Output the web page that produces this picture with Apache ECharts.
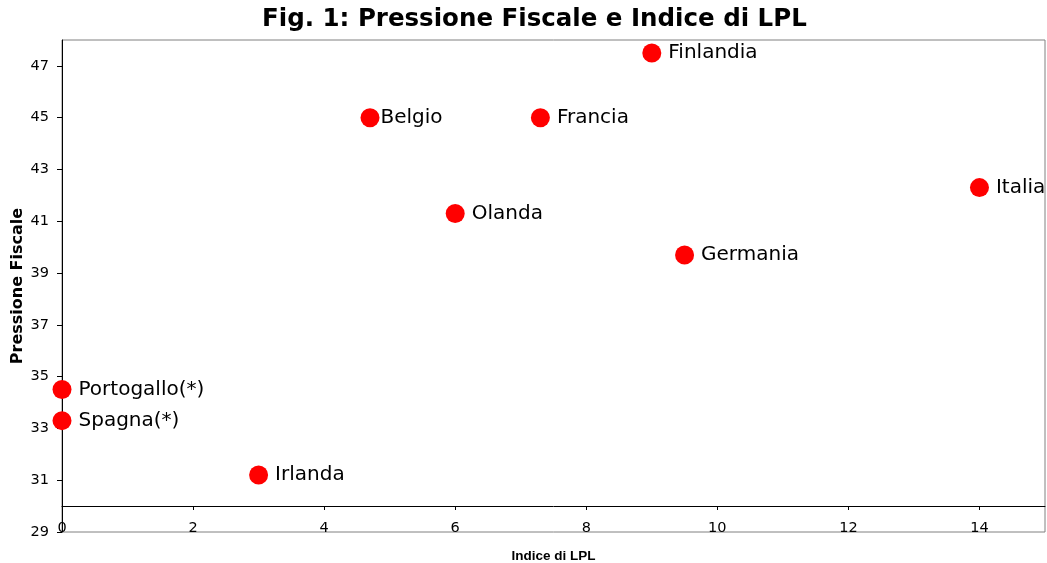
<!DOCTYPE html>
<html>
<head>
<meta charset="utf-8">
<script src="https://cdn.jsdelivr.net/npm/echarts@6/dist/echarts.min.js"></script>
<style>
html,body{margin:0;padding:0;background:#fff;}
#chart{width:1047px;height:563px;}
</style>
</head>
<body>
<div id="chart"></div>
<script>
const countries = ['Finlandia','Belgio','Francia','Italia','Olanda','Germania','Portogallo(*)','Spagna(*)','Irlanda'];
const lpl = [9, 4.7, 7.3, 14, 6, 9.5, 0, 0, 3];
const pressione = [47.5, 45, 45, 42.3, 41.3, 39.7, 34.5, 33.3, 31.2];
const xTicks = [0, 2, 4, 6, 8, 10, 12, 14];
const yTicks = [29, 31, 33, 35, 37, 39, 41, 43, 45, 47];

const chart = echarts.init(document.getElementById('chart'), null, {renderer: 'canvas'});
const font = 'DejaVu Sans, Verdana, sans-serif';

const data = countries.map((c, i) => ({
  value: [lpl[i], pressione[i]],
  name: c,
  label: c === 'Belgio' ? {distance: 1} : undefined
}));

chart.setOption({
  animation: false,
  backgroundColor: '#fff',
  title: {
    text: 'Fig. 1: Pressione Fiscale e Indice di LPL',
    left: 262, top: 7, padding: 0,
    textStyle: {fontFamily: font, fontWeight: 'bold', fontSize: 24.5, color: '#000'}
  },
  grid: {
    left: 62, top: 40, width: 983, height: 492,
    outerBoundsMode: 'none', containLabel: false,
    show: true, borderColor: '#808080', borderWidth: 1, backgroundColor: 'transparent'
  },
  xAxis: [{
    type: 'value', min: 0, max: 15, position: 'bottom',
    axisLine: {show: false},
    axisTick: {show: false},
    splitLine: {show: false},
    axisLabel: {customValues: xTicks, margin: -11, fontFamily: font, fontSize: 14.5, color: '#000'},
    name: 'Indice di LPL', nameLocation: 'middle', nameGap: 17, nameMoveOverlap: false,
    nameTextStyle: {fontFamily: 'Liberation Sans, Arial, sans-serif', fontWeight: 'bold', fontSize: 13.5, color: '#000'}
  }, {
    type: 'value', min: 0, max: 15, position: 'bottom', offset: -26,
    axisLine: {show: true, onZero: false, lineStyle: {color: '#000', width: 1}},
    axisTick: {show: true, customValues: xTicks, length: 4, lineStyle: {color: '#000'}},
    axisLabel: {show: false},
    splitLine: {show: false}
  }],
  yAxis: {
    type: 'value', min: 29, max: 48,
    axisLine: {show: true, onZero: false, lineStyle: {color: '#000', width: 1}},
    axisTick: {show: true, customValues: yTicks, length: 5, lineStyle: {color: '#000'}},
    axisLabel: {customValues: yTicks, margin: 13, fontFamily: font, fontSize: 14.5, color: '#000'},
    splitLine: {show: false},
    name: 'Pressione Fiscale', nameLocation: 'middle', nameGap: 36, nameMoveOverlap: false,
    nameTextStyle: {fontFamily: font, fontWeight: 'bold', fontSize: 16, color: '#000'}
  },
  series: [{
    type: 'scatter',
    xAxisIndex: 0,
    clip: false,
    symbol: 'circle',
    symbolSize: 19,
    itemStyle: {color: '#ff0000', opacity: 1},
    label: {
      show: true, position: 'right', distance: 7,
      formatter: p => p.name,
      fontFamily: font, fontSize: 20, color: '#000'
    },
    data: data
  }]
});
</script>
</body>
</html>
